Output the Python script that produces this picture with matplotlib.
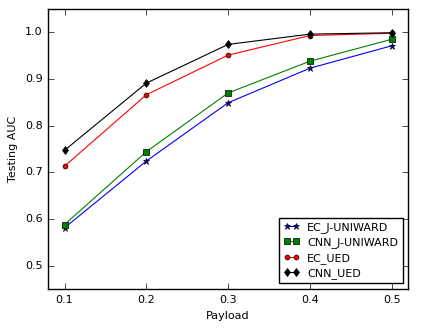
import matplotlib
matplotlib.use("Agg")
import matplotlib.pyplot as plt

plt.style.use("classic")

# Data
payload = [0.1, 0.2, 0.3, 0.4, 0.5]
ec_juniward = [0.581, 0.724, 0.849, 0.923, 0.971]
cnn_juniward = [0.588, 0.744, 0.870, 0.938, 0.985]
ec_ued = [0.713, 0.866, 0.951, 0.993, 0.998]
cnn_ued = [0.747, 0.891, 0.974, 0.996, 0.999]

fig = plt.figure(figsize=(4.3, 3.31), dpi=100, facecolor="white")
ax = fig.add_axes([0.112, 0.127, 0.837, 0.846])

ax.plot(payload, ec_juniward, "b-*", label="EC_J-UNIWARD", markersize=5, linewidth=0.8)
ax.plot(payload, cnn_juniward, "g-s", label="CNN_J-UNIWARD", markersize=4, linewidth=0.8)
ax.plot(payload, ec_ued, "r-o", label="EC_UED", markersize=3.5, linewidth=0.8)
ax.plot(payload, cnn_ued, "k-d", label="CNN_UED", markersize=4.5, linewidth=0.8)

ax.set_xlim(0.08, 0.52)
ax.set_ylim(0.45, 1.05)
ax.set_xticks(payload)
ax.set_yticks([0.5, 0.6, 0.7, 0.8, 0.9, 1.0])
ax.tick_params(labelsize=8)
ax.set_xlabel("Payload", fontsize=8)
ax.set_ylabel("Testing AUC", fontsize=8)

ax.legend(loc="lower right", fontsize=8, numpoints=2, borderaxespad=0.5,
          handlelength=1.4, handletextpad=0.7, labelspacing=0.4)

fig.savefig("out.png", dpi=100, facecolor="white")
